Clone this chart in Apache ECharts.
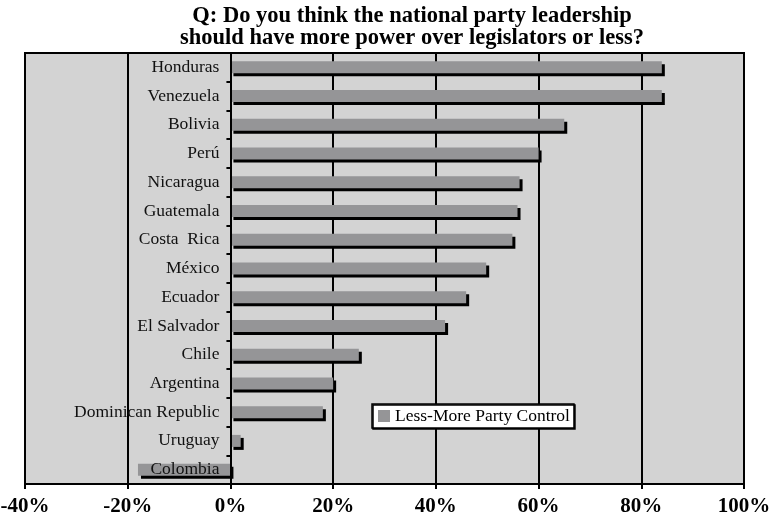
<!DOCTYPE html>
<html>
<head>
<meta charset="utf-8">
<script src="https://cdn.jsdelivr.net/npm/echarts@6/dist/echarts.min.js"></script>
<style>html,body{margin:0;padding:0;background:#fff}#c{width:769px;height:519px}</style>
</head>
<body>
<div id="c"></div>
<script>
const categories = ["Honduras","Venezuela","Bolivia","Perú","Nicaragua","Guatemala","Costa  Rica","México","Ecuador","El Salvador","Chile","Argentina","Dominican Republic","Uruguay","Colombia"];
const values = [84, 84, 65, 60, 56.3, 55.9, 54.9, 49.8, 45.9, 41.8, 25, 20, 18, 2, -18];
const xTicks = [-40, -20, 0, 20, 40, 60, 80, 100];
const seriesName = "Less-More Party Control";
const titleText = "Q: Do you think the national party leadership\nshould have more power over legislators or less?";

const W = 769, gridLeft = 25, gridRight = 25;
const xMin = -40, xMax = 100;
const zeroOffset = -((0 - xMin) / (xMax - xMin)) * (W - gridLeft - gridRight);

const chart = echarts.init(document.getElementById('c'));
chart.setOption({
  animation: false,
  backgroundColor: '#fff',
  title: {
    text: titleText,
    left: 407, top: 0, textAlign: 'center',
    textStyle: {fontFamily: 'Liberation Serif', fontWeight: 'bold', fontSize: 22.5, lineHeight: 22, color: '#000'}
  },
  grid: {left: gridLeft, right: gridRight, top: 53, bottom: 35, show: true, backgroundColor: '#d3d3d3', borderColor: '#000', borderWidth: 2, outerBoundsMode: 'none', containLabel: false},
  legend: {
    data: [seriesName], left: 372, top: 404,
    backgroundColor: '#fff', borderColor: '#000', borderWidth: 1.5,
    padding: [3, 4, 3, 6], itemWidth: 12, itemHeight: 12, itemGap: 4,
    icon: 'rect',
    shadowColor: '#000', shadowOffsetX: 1, shadowOffsetY: 1,
    textStyle: {fontFamily: 'Liberation Serif', fontSize: 17.5, color: '#000'}
  },
  xAxis: {
    type: 'value', min: xMin, max: xMax, interval: 20,
    axisLine: {show: true, lineStyle: {color: '#000', width: 2}},
    axisTick: {show: true, length: 5, lineStyle: {color: '#000', width: 2}},
    splitLine: {show: true, lineStyle: {color: '#000', width: 2}},
    axisLabel: {formatter: v => xTicks.includes(v) ? v + '%' : '', margin: 12, fontFamily: 'Liberation Serif', fontWeight: 'bold', fontSize: 21, color: '#000'}
  },
  yAxis: {
    type: 'category', data: categories, inverse: true,
    offset: zeroOffset,
    axisLine: {show: true, onZero: false, lineStyle: {color: '#000', width: 2}},
    axisTick: {show: true, length: 4, lineStyle: {color: '#000', width: 2}},
    axisLabel: {margin: 11, fontFamily: 'Liberation Serif', fontSize: 17.5, color: '#111'},
    z: 5
  },
  series: [{
    name: seriesName, type: 'bar', data: values, barWidth: 12,
    itemStyle: {color: '#959597', shadowColor: '#000', shadowOffsetX: 3, shadowOffsetY: 3, shadowBlur: 0},
    z: 2
  }]
});
</script>
</body>
</html>
